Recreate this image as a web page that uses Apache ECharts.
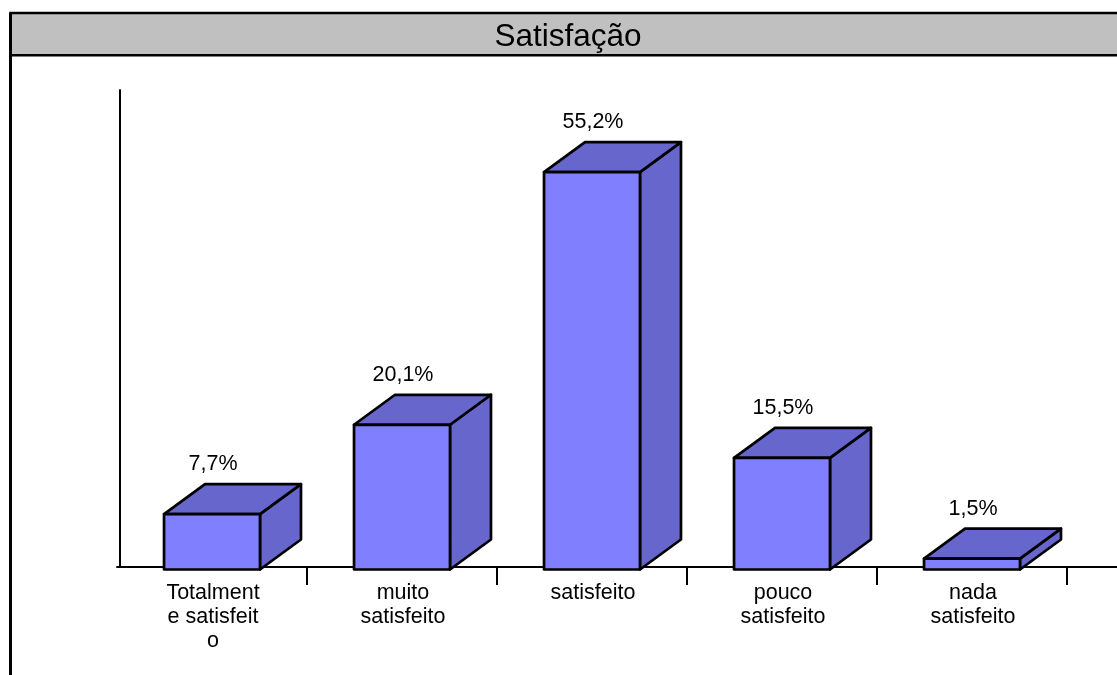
<!DOCTYPE html>
<html>
<head>
<meta charset="utf-8">
<style>html,body{margin:0;padding:0;background:#fff}#c{width:1117px;height:675px}</style>
<script src="https://cdn.jsdelivr.net/npm/echarts@6/dist/echarts.min.js"></script>
</head>
<body>
<div id="c"></div>
<script>
const titleText = 'Satisfação';
const categories = ['Totalment\ne satisfeit\no', 'muito\nsatisfeito', 'satisfeito', 'pouco\nsatisfeito', 'nada\nsatisfeito', ''];
const values = [7.7, 20.1, 55.2, 15.5, 1.5];

const FONT = '"Liberation Sans", Arial, sans-serif';
const FRONT = '#8080FF', SHADE = '#6666CC', DX = 41, DY = 30;

function renderBar(params, api) {
  const idx = api.value(0), val = api.value(1);
  const top = api.coord([idx, val]), base = api.coord([idx, 0]);
  const w = api.size([1, 0])[0] * 0.505;
  const l = top[0] - w / 2, r = top[0] + w / 2, t = top[1], b = base[1];
  const stroke = { stroke: '#000', lineWidth: 2.7, lineJoin: 'round' };
  const poly = (points, fill) => ({
    type: 'polygon', shape: { points }, style: Object.assign({ fill }, stroke)
  });
  return {
    type: 'group',
    y: 2.5,
    children: [
      poly([[r, t], [r + DX, t - DY], [r + DX, b - DY], [r, b]], SHADE),
      poly([[l, t], [l + DX, t - DY], [r + DX, t - DY], [r, t]], SHADE),
      poly([[l, t], [r, t], [r, b], [l, b]], FRONT),
      {
        type: 'text',
        style: {
          x: top[0] + 1, y: t - DY - 20,
          text: val.toFixed(1).replace('.', ',') + '%',
          align: 'center', verticalAlign: 'middle',
          font: '21.5px ' + FONT, fill: '#000'
        }
      }
    ]
  };
}

const chart = echarts.init(document.getElementById('c'), null, { renderer: 'canvas' });
chart.setOption({
  animation: false,
  backgroundColor: '#fff',
  title: {
    text: titleText, left: 563, top: 32, textAlign: 'center', textVerticalAlign: 'middle',
    textStyle: { fontFamily: FONT, fontSize: 31.5, fontWeight: 'normal', color: '#000' }
  },
  graphic: [
    { type: 'rect', z: -1, shape: { x: 10.5, y: 13, width: 1200, height: 42.3 },
      style: { fill: '#C0C0C0', stroke: '#000', lineWidth: 2.5 } },
    { type: 'line', z: -1, shape: { x1: 10.5, y1: 13, x2: 10.5, y2: 675 },
      style: { stroke: '#000', lineWidth: 3 } }
  ],
  grid: { left: 117, top: 90, width: 1140, height: 477, outerBoundsMode: 'none' },
  xAxis: {
    type: 'category',
    data: categories,
    axisLine: { lineStyle: { color: '#000', width: 2 } },
    axisTick: { show: true, length: 18, interval: (i) => i > 0, lineStyle: { color: '#000', width: 2 } },
    axisLabel: { interval: 0, margin: 14, padding: [0, 0, 0, 2], color: '#000', fontFamily: FONT, fontSize: 21.5, lineHeight: 24 }
  },
  yAxis: {
    type: 'value', min: 0, max: 66.25, offset: -3,
    axisLine: { show: true, lineStyle: { color: '#000', width: 2 } },
    axisTick: { show: false }, axisLabel: { show: false }, splitLine: { show: false }
  },
  series: [{
    type: 'custom',
    coordinateSystem: 'cartesian2d',
    renderItem: renderBar,
    encode: { x: 0, y: 1 },
    data: values.map((v, i) => [i, v]),
    clip: false
  }]
});
</script>
</body>
</html>
